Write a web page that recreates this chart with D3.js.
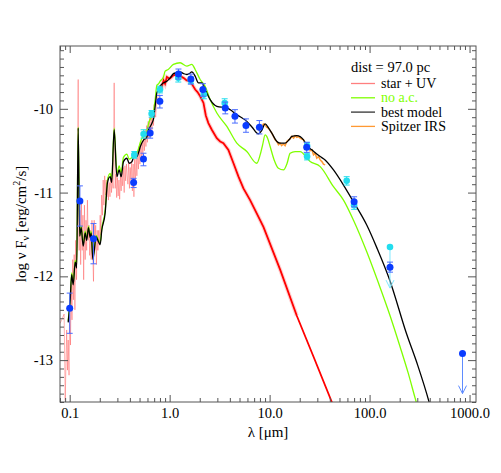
<!DOCTYPE html>
<html>
<head>
<meta charset="utf-8">
<script src="https://cdn.jsdelivr.net/npm/d3@7"></script>
<style>
body { margin: 0; background: #fff; }
svg text { font-family: "Liberation Serif", "DejaVu Serif", serif; }
</style>
</head>
<body>
<div id="sed"></div>
<script>
// wavelength in micron, log(nu F_nu) in erg/cm2/s

// noisy stellar spectrum, UV part
const starUV = [
  [0.0804,-12.56],[0.0880,-12.45],[0.0902,-13.48],[0.0933,-12.64],[0.0950,-13.12],[0.0966,-12.76],[0.0985,-13.18],
  [0.1000,-12.28],[0.1018,-12.82],[0.1035,-12.10],[0.1055,-12.52],[0.1072,-11.80],[0.1090,-12.28],[0.1109,-11.74],
  [0.1128,-12.40],[0.1148,-11.57],[0.1170,-12.04],[0.1189,-11.51],[0.1216,-9.65],[0.1230,-11.51],[0.1245,-11.69],
  [0.1265,-11.21],[0.1288,-11.86],[0.1310,-11.09],[0.1334,-11.69],[0.1357,-11.27],[0.1380,-12.04],[0.1405,-11.15],
  [0.1429,-11.80],[0.1455,-11.33],[0.1479,-11.69],[0.1505,-11.09],[0.1531,-11.57],[0.1558,-11.39],[0.1585,-11.75],
  [0.1610,-11.45],[0.1641,-11.80],[0.1670,-11.33],[0.1730,-12.06],[0.1758,-11.33],[0.1790,-11.69],[0.1820,-11.39],
  [0.1850,-11.86],[0.1884,-11.45],[0.1915,-11.69],[0.1950,-11.45],[0.1985,-11.63],[0.2018,-11.27],[0.2050,-11.51],
  [0.2089,-11.03],[0.2125,-11.27],[0.2163,-10.85],[0.2200,-11.15],[0.2239,-10.80],[0.2280,-11.03],[0.2317,-10.85],
  [0.2360,-11.05],[0.2399,-10.82],[0.2440,-11.09],[0.2483,-10.88],[0.2530,-11.05],[0.2570,-10.80],[0.2620,-11.00],
  [0.2661,-10.82],[0.2723,-10.95],[0.2786,-9.69],[0.2851,-10.95],[0.2900,-10.78],[0.2951,-11.06],[0.3000,-10.82],
  [0.3055,-11.04],[0.3110,-10.85],[0.3162,-11.08],[0.3220,-10.80],[0.3273,-10.98],[0.3330,-10.76],[0.3388,-10.92],
  [0.3450,-10.70],[0.3508,-11.00],[0.3570,-10.68],[0.3631,-10.86],[0.3700,-10.66],[0.3758,-10.80],[0.3820,-10.90],
  [0.3890,-10.64],[0.3960,-10.95],[0.4027,-10.70],[0.4100,-10.85],[0.4169,-10.62],[0.4240,-10.98],[0.4315,-10.66],
  [0.4390,-11.05],[0.4467,-10.60],[0.4540,-10.88],[0.4624,-10.55],[0.4700,-10.80],[0.4786,-10.50],[0.4870,-10.72],
  [0.4955,-10.45],[0.5040,-10.66],[0.5129,-10.40],[0.5220,-10.60],[0.5309,-10.38],[0.5400,-10.55],[0.5495,-10.30],
  [0.5590,-10.50],[0.5689,-10.25],[0.5790,-10.45],[0.5888,-10.20],[0.5990,-10.40],[0.6095,-10.15],[0.6200,-10.35],
  [0.6310,-10.10],[0.6420,-10.30],[0.6531,-10.05],[0.6650,-10.25],[0.6761,-10.05],[0.6900,-10.20],[0.7000,-9.95],
  [0.7244,-10.10],[0.7450,-9.85],[0.7700,-9.95],[0.8000,-9.72]
]

// stellar spectrum, optical to mid-IR
const starIR = [
  [0.80,-9.72],[0.83,-9.75],[0.87,-9.66],[0.90,-9.70],[0.938,-9.62],[1.0,-9.64],[1.09,-9.60],[1.18,-9.59],
  [1.27,-9.61],[1.374,-9.63],[1.48,-9.66],[1.60,-9.67],[1.70,-9.72],[1.80,-9.77],[1.90,-9.80],[2.02,-9.85],
  [2.18,-9.93],[2.30,-10.08],[2.44,-10.17],[2.64,-10.25],[2.96,-10.35],[3.20,-10.39],[3.45,-10.41],[3.87,-10.49],
  [4.35,-10.65],[4.88,-10.81],[5.47,-10.95],[6.38,-11.09],[8.67,-11.41],[12.74,-11.92],[18.7,-12.47],
  [27.5,-12.96],[41.9,-13.50],[46.0,-13.62]
]

const noAC = [
  [0.0966,-12.53],[0.1012,-12.26],[0.1047,-11.96],[0.1084,-12.08],[0.1135,-11.81],[0.1175,-11.88],[0.1216,-10.22],
  [0.1259,-11.50],[0.1303,-11.40],[0.1365,-11.62],[0.1429,-11.46],[0.1479,-11.55],[0.1542,-11.40],[0.1603,-11.52],
  [0.1641,-11.46],[0.1706,-11.78],[0.1841,-11.51],[0.1945,-11.57],[0.2018,-11.60],[0.2094,-11.43],[0.2265,-11.21],
  [0.2388,-10.85],[0.2541,-10.77],[0.2630,-10.84],[0.2786,-10.23],[0.2965,-10.77],[0.3126,-10.68],[0.3273,-10.76],
  [0.3451,-10.58],[0.3733,-10.54],[0.3936,-10.60],[0.4198,-10.58],[0.4426,-10.51],[0.4721,-10.52],[0.4920,-10.46],
  [0.5093,-10.40],[0.5495,-10.31],[0.5848,-10.29],[0.6166,-10.17],[0.6668,-10.08],[0.6918,-10.02],[0.7161,-9.89],
  [0.7447,-9.72],[0.7762,-9.70],[0.8035,-9.67],[0.867,-9.62],[0.902,-9.55],[0.966,-9.53],[1.091,-9.47],[1.274,-9.45],
  [1.486,-9.49],[1.667,-9.47],[1.799,-9.53],[2.018,-9.65],[2.265,-9.73],[2.541,-9.89],[2.965,-10.05],[3.733,-10.21],
  [4.699,-10.41],[5.916,-10.51],[7.447,-10.65],[8.035,-10.55],[8.511,-10.43],[9.016,-10.31],[9.55,-10.35],
  [10.12,-10.45],[11.10,-10.61],[12.25,-10.71],[13.74,-10.73],[14.96,-10.65],[16.03,-10.53],[17.99,-10.51],
  [20.18,-10.51],[25.41,-10.63],[32.06,-10.69],[43.55,-10.93],[54.83,-11.09],[69.02,-11.33],[93.9,-11.71],
  [122.7,-12.08],[160.3,-12.47],[201.8,-12.84],[242.7,-13.15],[286.4,-13.46],[321.4,-13.67]
]

const bestModel = [
  [0.0966,-12.55],[0.1012,-12.28],[0.1047,-11.98],[0.1084,-12.10],[0.1135,-11.83],[0.1175,-11.90],[0.1216,-10.23],
  [0.1259,-11.52],[0.1303,-11.42],[0.1365,-11.64],[0.1429,-11.48],[0.1479,-11.57],[0.1542,-11.42],[0.1603,-11.54],
  [0.1641,-11.48],[0.1706,-11.80],[0.1841,-11.53],[0.1945,-11.59],[0.2018,-11.62],[0.2094,-11.45],[0.2265,-11.24],
  [0.2388,-10.88],[0.2541,-10.81],[0.2630,-10.88],[0.2786,-10.25],[0.2965,-10.81],[0.3126,-10.73],[0.3273,-10.81],
  [0.3451,-10.63],[0.3733,-10.59],[0.3936,-10.65],[0.4198,-10.63],[0.4426,-10.56],[0.4721,-10.57],[0.4920,-10.51],
  [0.5093,-10.45],[0.5495,-10.37],[0.5848,-10.35],[0.6166,-10.25],[0.6668,-10.17],[0.6918,-10.11],[0.7161,-9.97],
  [0.7447,-9.81],[0.7762,-9.77],[0.8035,-9.73],[0.867,-9.69],[0.9376,-9.67],[1.012,-9.63],[1.091,-9.58],[1.175,-9.57],
  [1.274,-9.56],[1.38,-9.58],[1.486,-9.59],[1.567,-9.58],[1.667,-9.56],[1.799,-9.61],[1.941,-9.69],[2.099,-9.69],
  [2.265,-9.77],[2.541,-9.89],[2.965,-9.97],[3.733,-9.99],[4.699,-10.07],[5.916,-10.15],[6.683,-10.22],[7.727,-10.30],
  [8.318,-10.26],[9.016,-10.18],[9.772,-10.23],[10.52,-10.29],[11.81,-10.39],[12.74,-10.41],[14.29,-10.41],
  [15.67,-10.37],[16.67,-10.33],[18.71,-10.32],[21.83,-10.37],[23.6,-10.44],[26.48,-10.49],[32.06,-10.57],
  [35.89,-10.61],[43.55,-10.73],[54.8,-10.91],[69.0,-11.11],[93.9,-11.39],[118.3,-11.66],[158.5,-12.04],
  [233.4,-12.68],[302.6,-13.06],[393.6,-13.50],[418.8,-13.62]
]

const spitzerIRS = [
  [7.727,-10.26],[8.222,-10.23],[8.670,-10.18],[9.016,-10.19],[9.33,-10.22],[9.727,-10.23],[10.12,-10.26],
  [10.52,-10.29],[10.93,-10.33],[11.35,-10.37],[11.81,-10.39],[12.25,-10.43],[12.74,-10.41],[13.18,-10.44],
  [13.74,-10.42],[14.29,-10.44],[14.86,-10.39],[15.49,-10.37],[16.03,-10.36],[16.67,-10.33],[17.38,-10.35],
  [17.99,-10.32],[18.71,-10.34],[19.41,-10.33],[20.18,-10.35],[20.98,-10.36],[21.83,-10.37],[22.65,-10.41],
  [23.60,-10.45],[24.49,-10.45],[25.41,-10.50],[26.48,-10.49],[27.48,-10.55],[28.51,-10.53],[29.65,-10.59],
  [30.90,-10.57],[32.06,-10.61],[33.34,-10.63],[34.59,-10.66],[35.89,-10.67]
]

// [lambda, logF, err up, err down]
const photometry = [
  [0.1,-12.38,0.18,0.30],[0.1265,-11.10,0.18,0.30],[0.173,-11.55,0.18,0.30],[0.436,-10.88,0.05,0.06],
  [0.547,-10.60,0.07,0.08],[0.638,-10.29,0.06,0.06],[0.798,-9.91,0.07,0.08],[1.225,-9.585,0.06,0.06],
  [1.63,-9.645,0.06,0.06],[2.15,-9.77,0.07,0.08],[3.6,-9.99,0.07,0.07],[4.5,-10.09,0.08,0.08],
  [5.8,-10.20,0.08,0.08],[7.9,-10.22,0.08,0.08],[23.5,-10.46,0.06,0.06],[70,-11.11,0.06,0.06],[160,-11.89,0.06,0.06]
]
const photometry2 = [
  [0.443,-10.55,0.04,0.04],[0.549,-10.30,0.05,0.05],[0.66,-10.06,0.04,0.04],[0.80,-9.77,0.04,0.04],
  [1.22,-9.63,0.05,0.05],[1.63,-9.66,0.04,0.04],[2.2,-9.83,0.05,0.05],[3.55,-9.93,0.05,0.05],
  [23.7,-10.44,0.04,0.04],[23.7,-10.57,0.04,0.04],[59,-10.86,0.05,0.05],[70,-11.15,0.05,0.05]
]
// [lambda, logF, arrow end]
const upperLimits = [[850,-12.92,-13.40]]
const upperLimits2 = [[160,-11.65,-12.14]]

const xTicks = [0.1, 1, 10, 100, 1000]
const xTickLabels = ["0.1", "1.0", "10.0", "100.0", "1000.0"]
const yTicks = [-10, -11, -12, -13]

const legendItems = [
  {label: "star + UV", color: "#ff7f7f", text: "#000"},
  {label: "no a.c.", color: "#7fff00", text: "#7fff00"},
  {label: "best model", color: "#333", text: "#000"},
  {label: "Spitzer IRS", color: "#ff9933", text: "#000"}
]

var serif = "'Liberation Serif', 'DejaVu Serif', serif"

var margin = {top: 46, right: 25, bottom: 71, left: 60},
  width = 501 - margin.left - margin.right,
  height = 473 - margin.top - margin.bottom;

var svg = d3.select("#sed")
  .append("svg")
    .attr("width", 501)
    .attr("height", 473)
    .attr("font-family", serif)
  .append("g")
    .attr("transform", "translate(" + margin.left + "," + margin.top + ")");

var x = d3.scaleLog().domain([0.08, 1160]).range([0, width])
var y = d3.scaleLinear().domain([-13.5, -9.25]).range([height, 0])

svg.append("clipPath").attr("id", "clip")
  .append("rect").attr("width", width).attr("height", height)

var plot = svg.append("g").attr("clip-path", "url(#clip)")

var line = d3.line().x(d => x(d[0])).y(d => y(d[1]))
var smooth = d3.line().x(d => x(d[0])).y(d => y(d[1])).curve(d3.curveMonotoneX)

// star + UV
plot.append("path").attr("d", line(starUV))
  .style("fill", "none").style("stroke", "#ff4040").style("stroke-width", 1).style("opacity", 0.4)
plot.append("path").attr("d", line(starIR.filter(d => d[0] < 20)))
  .style("fill", "none").style("stroke", "#ff9a9a").style("stroke-width", 4).style("opacity", 0.45)
plot.append("path").attr("d", line(starIR))
  .style("fill", "none").style("stroke", "#ff0000").style("stroke-width", 1.8)

// no a.c.
plot.append("path").attr("d", smooth(noAC))
  .style("fill", "none").style("stroke", "#7fff00").style("stroke-width", 1.3)

// Spitzer IRS
plot.append("path").attr("d", line(spitzerIRS))
  .style("fill", "none").style("stroke", "#ff9933").style("stroke-width", 1.5)

// best model
plot.append("path").attr("d", smooth(bestModel))
  .style("fill", "none").style("stroke", "#000").style("stroke-width", 1.3)

function drawPoints(data, barColor, dotColor, r) {
  var pts = plot.append("g").selectAll("g").data(data).enter().append("g")
  pts.append("line")
    .attr("x1", d => x(d[0])).attr("x2", d => x(d[0]))
    .attr("y1", d => y(d[1] + d[2])).attr("y2", d => y(d[1] - d[3]))
    .style("stroke", barColor).style("stroke-width", 1)
  pts.append("line")
    .attr("x1", d => x(d[0]) - 3).attr("x2", d => x(d[0]) + 3)
    .attr("y1", d => y(d[1] + d[2])).attr("y2", d => y(d[1] + d[2]))
    .style("stroke", barColor)
  pts.append("line")
    .attr("x1", d => x(d[0]) - 3).attr("x2", d => x(d[0]) + 3)
    .attr("y1", d => y(d[1] - d[3])).attr("y2", d => y(d[1] - d[3]))
    .style("stroke", barColor)
  pts.append("circle")
    .attr("cx", d => x(d[0])).attr("cy", d => y(d[1])).attr("r", r)
    .style("fill", dotColor)
}

function drawLimits(data, color, dotColor, r) {
  var pts = plot.append("g").selectAll("g").data(data).enter().append("g")
  pts.append("line")
    .attr("x1", d => x(d[0])).attr("x2", d => x(d[0]))
    .attr("y1", d => y(d[1])).attr("y2", d => y(d[2]))
    .style("stroke", color)
  pts.append("path")
    .attr("d", d => "M" + (x(d[0]) - 4) + "," + (y(d[2]) - 8) + "L" + x(d[0]) + "," + y(d[2]) + "L" + (x(d[0]) + 4) + "," + (y(d[2]) - 8))
    .style("fill", "none").style("stroke", color)
  pts.append("circle")
    .attr("cx", d => x(d[0])).attr("cy", d => y(d[1])).attr("r", r)
    .style("fill", dotColor)
}

drawLimits(upperLimits2, "#7fe8ff", "#22ddee", 3.3)
drawPoints(photometry2, "#22ddee", "#22ddee", 3.3)
drawLimits(upperLimits, "#5f8cff", "#0a3cff", 3.5)
drawPoints(photometry, "#4a6cff", "#0a3cff", 3.5)

// axes: ticks on all four sides, pointing in
var axisColor = "#555"
function styleAxis(g) {
  g.attr("font-family", serif)
  g.select(".domain").remove()
  g.selectAll("line").style("stroke", axisColor)
  g.selectAll("text").style("font-size", "14.5px").style("fill", "#000")
}
var xMinor = x.ticks().filter(t => xTicks.indexOf(t) < 0)
var yMinor = y.ticks(42).filter(t => Math.abs(t - Math.round(t)) > 1e-6)

svg.append("g").attr("transform", "translate(0," + height + ")")
  .call(d3.axisBottom(x).tickValues(xTicks).tickSize(-7).tickSizeOuter(0).tickPadding(6)
    .tickFormat((d, i) => xTickLabels[i])).call(styleAxis)
svg.append("g").attr("transform", "translate(0," + height + ")")
  .call(d3.axisBottom(x).tickValues(xMinor).tickSize(-4).tickSizeOuter(0).tickFormat("")).call(styleAxis)
svg.append("g")
  .call(d3.axisTop(x).tickValues(xTicks).tickSize(-7).tickSizeOuter(0).tickFormat("")).call(styleAxis)
svg.append("g")
  .call(d3.axisTop(x).tickValues(xMinor).tickSize(-4).tickSizeOuter(0).tickFormat("")).call(styleAxis)

svg.append("g")
  .call(d3.axisLeft(y).tickValues(yTicks).tickSize(-8).tickSizeOuter(0).tickPadding(7)
    .tickFormat(d => String(d))).call(styleAxis)
svg.append("g")
  .call(d3.axisLeft(y).tickValues(yMinor).tickSize(-4).tickSizeOuter(0).tickFormat("")).call(styleAxis)
svg.append("g").attr("transform", "translate(" + width + ",0)")
  .call(d3.axisRight(y).tickValues(yTicks).tickSize(-8).tickSizeOuter(0).tickFormat("")).call(styleAxis)
svg.append("g").attr("transform", "translate(" + width + ",0)")
  .call(d3.axisRight(y).tickValues(yMinor).tickSize(-4).tickSizeOuter(0).tickFormat("")).call(styleAxis)

svg.append("rect").attr("width", width).attr("height", height)
  .style("fill", "none").style("stroke", axisColor).style("stroke-width", 1)

// axis titles
svg.append("text")
  .attr("x", 208).attr("y", 391)
  .style("text-anchor", "middle").style("font-size", "15px")
  .text("λ [μm]")

var ylab = svg.append("text")
  .attr("transform", "translate(-34," + 178 + ") rotate(-90)")
  .style("text-anchor", "middle").style("font-size", "15px")
ylab.append("tspan").text("log ν F")
ylab.append("tspan").attr("dy", 3).style("font-size", "10px").text("ν")
ylab.append("tspan").attr("dy", -3).text(" [erg/cm")
ylab.append("tspan").attr("dy", -6).style("font-size", "10px").text("2")
ylab.append("tspan").attr("dy", 6).text("/s]")

// legend
var legend = svg.append("g").attr("transform", "translate(291,0)")
legend.append("text").attr("x", 0).attr("y", 26).style("font-size", "14.5px").text("dist = 97.0 pc")
var rows = legend.selectAll(".row").data(legendItems).enter().append("g")
  .attr("transform", (d, i) => "translate(0," + (37.5 + i * 14.3) + ")")
rows.append("line").attr("x1", 0).attr("x2", 24)
  .style("stroke", d => d.color).style("stroke-width", 1.3)
rows.append("text").attr("x", 30).attr("y", 4.5)
  .style("font-size", "14px").style("fill", d => d.text).text(d => d.label)
</script>
</body>
</html>
